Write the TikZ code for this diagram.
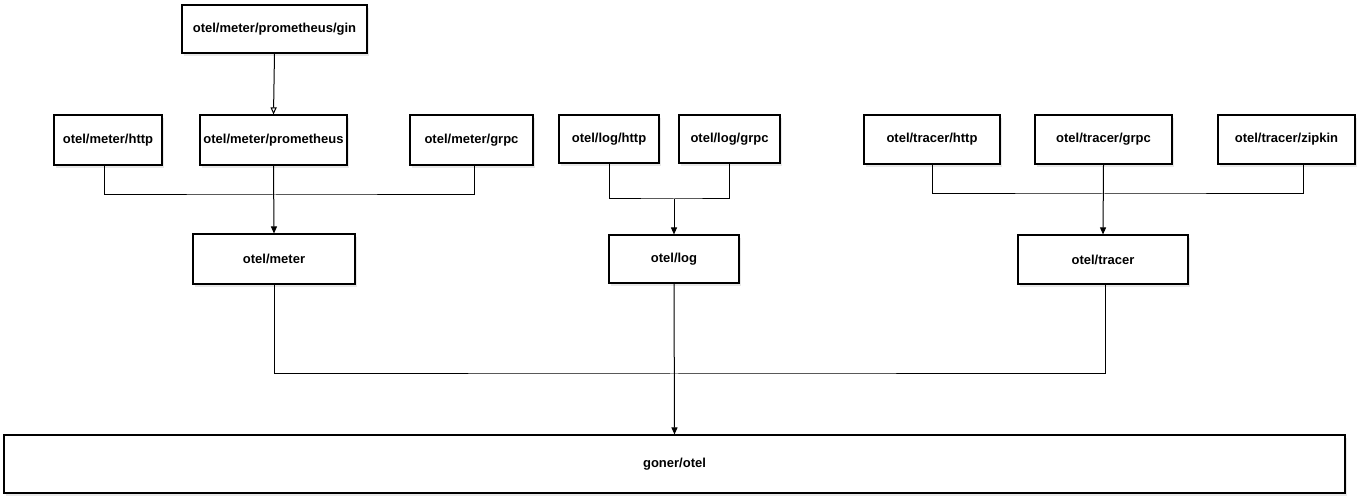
\documentclass[tikz,border=0pt]{standalone}
\usepackage{fontspec}
\setmainfont{Liberation Sans}
\usetikzlibrary{arrows.meta,shadows,calc}
\begin{document}
\begin{tikzpicture}[x=1pt,y=-1pt,
  pkg/.style={draw=black, line width=1.1pt, fill=white, rectangle, inner sep=0pt,
    font=\fontsize{13}{15}\selectfont\bfseries,
    drop shadow={opacity=0.18, shadow xshift=2pt, shadow yshift=-3pt}},
  wire/.style={draw=black, line width=1pt},
  arr/.style={wire, -{Triangle[length=7pt,width=6pt]}},
  oarr/.style={wire, -{Triangle[open,length=7pt,width=6pt]}}]
\useasboundingbox (0,0) rectangle (1361,502);
\node[pkg, minimum width=185pt, minimum height=48pt] (gin) at (274.5,29) {otel/meter/prometheus/gin};
\node[pkg, minimum width=108pt, minimum height=50pt] (mhttp) at (108,140) {otel/meter/http};
\node[pkg, minimum width=147pt, minimum height=50pt] (mprom) at (273.5,140) {otel/meter/prometheus};
\node[pkg, minimum width=123pt, minimum height=50pt] (mgrpc) at (471.5,140) {otel/meter/grpc};
\node[pkg, minimum width=100pt, minimum height=48pt] (lhttp) at (609,139) {otel/log/http};
\node[pkg, minimum width=101pt, minimum height=48pt] (lgrpc) at (729.5,139) {otel/log/grpc};
\node[pkg, minimum width=136pt, minimum height=49pt] (thttp) at (932,139.5) {otel/tracer/http};
\node[pkg, minimum width=137pt, minimum height=49pt] (tgrpc) at (1103.5,139.5) {otel/tracer/grpc};
\node[pkg, minimum width=137pt, minimum height=49pt] (tzip) at (1286.5,139.5) {otel/tracer/zipkin};
\node[pkg, minimum width=162pt, minimum height=50pt] (meter) at (274,259) {otel/meter};
\node[pkg, minimum width=130pt, minimum height=48pt] (log) at (674,259) {otel/log};
\node[pkg, minimum width=170pt, minimum height=49pt] (tracer) at (1103,259.5) {otel/tracer};
\node[pkg, minimum width=1341pt, minimum height=58pt] (goner) at (674.5,464) {goner/otel};
% meter group
\draw[oarr] (gin.south) -- (mprom.north);
\draw[wire] ($(mhttp.south)+(-4,0)$) |- (274,195) -| ($(mgrpc.south)+(2.5,0)$);
\draw[arr] (mprom.south) -- (meter.north);
% log group
\draw[wire] (lhttp.south) |- (674,199) -| (lgrpc.south);
\draw[arr] (674,199) -- (log.north);
% tracer group
\draw[wire] (thttp.south) |- (1103,194) -| ($(tzip.south)+(16.5,0)$);
\draw[arr] (tgrpc.south) -- (tracer.north);
% bottom
\draw[wire] (meter.south) |- (674,374) -| ($(tracer.south)+(2,0)$);
\draw[arr] (log.south) -- (goner.north);
\end{tikzpicture}
\end{document}
